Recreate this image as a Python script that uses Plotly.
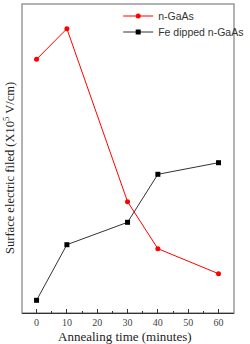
import plotly.graph_objects as go

time_min = [0, 10, 30, 40, 60]
n_gaas = [253.7, 284.3, 111.3, 64.3, 39.3]
fe_dipped = [12.7, 68.3, 90.7, 138.7, 150.3]
x_ticks = [0, 10, 20, 30, 40, 50, 60]

fig = go.Figure()
fig.add_trace(go.Scatter(x=time_min, y=n_gaas, mode="lines+markers", name="n-GaAs",
                         line=dict(color="#ff0000", width=1),
                         marker=dict(symbol="circle", size=5, color="#ff0000"),
                         legend="legend"))
fig.add_trace(go.Scatter(x=time_min, y=fe_dipped, mode="lines+markers", name="Fe dipped n-GaAs",
                         line=dict(color="#333333", width=1),
                         marker=dict(symbol="square", size=5, color="#000000"),
                         legend="legend2"))

leg_common = dict(xanchor="left", yanchor="middle", bgcolor="rgba(0,0,0,0)",
                  font=dict(family="Liberation Sans", size=10.5, color="#333"),
                  itemwidth=30, borderwidth=0)

fig.update_layout(
    width=250, height=344,
    margin=dict(l=22, r=1, t=4, b=31),
    paper_bgcolor="white", plot_bgcolor="white",
    showlegend=True,
    legend=dict(x=(125 - 22) / 227, y=(313 - 16) / 309, **leg_common),
    legend2=dict(x=(125 - 22) / 227, y=(313 - 32) / 309, **leg_common),
    xaxis=dict(range=[-4.8, 65.1], tickvals=x_ticks, ticks="inside", ticklen=4,
               tickcolor="#333", showline=True, linecolor="#333", linewidth=1,
               minor=dict(dtick=5, tick0=5, ticks="inside", ticklen=2, tickcolor="#333"),
               showgrid=False, zeroline=False,
               tickfont=dict(family="Liberation Serif", size=10, color="#444")),
    yaxis=dict(range=[0, 309], showticklabels=False, ticks="", showgrid=False,
               zeroline=False, showline=False),
    shapes=[dict(type="rect", xref="paper", yref="paper", x0=0, y0=0, x1=1, y1=1,
                 line=dict(color="#999999", width=1.5), layer="below")],
    annotations=[
        dict(text="Annealing time (minutes)", xref="paper", yref="paper",
             x=(132 - 22) / 227, y=-(336 - 313) / 309, xanchor="center", yanchor="middle",
             showarrow=False, font=dict(family="Liberation Serif", size=13, color="#222")),
        dict(text="Surface electric filed (X10<sup>5</sup> V/cm)", xref="paper", yref="paper",
             x=-(22 - 8) / 227, y=(313 - 168) / 309, xanchor="center", yanchor="middle",
             textangle=-90, showarrow=False,
             font=dict(family="Liberation Serif", size=12.5, color="#222")),
    ],
)

fig.write_html("out.html")
